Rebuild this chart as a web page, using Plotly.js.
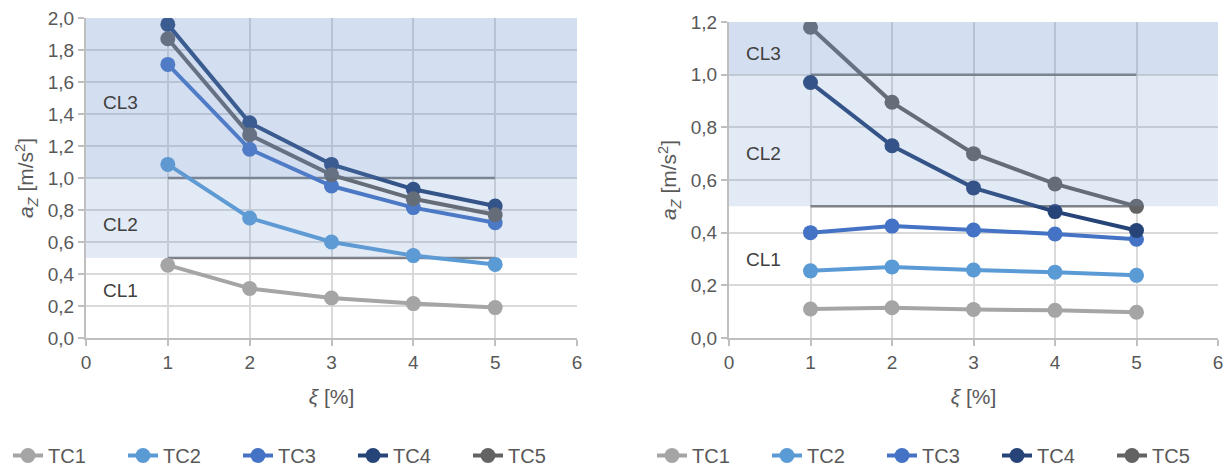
<!DOCTYPE html>
<html>
<head>
<meta charset="utf-8">
<script src="https://cdn.plot.ly/plotly-3.0.1.min.js"></script>
<style>html,body{margin:0;padding:0;background:#fff;}#chart{width:1227px;height:469px;}</style>
</head>
<body>
<div id="chart"></div>
<script>
// ---- data ----
const xi = [1, 2, 3, 4, 5];
const seriesNames = ["TC1", "TC2", "TC3", "TC4", "TC5"];
const seriesColors = ["#A5A5A5", "#5B9BD5", "#4472C4", "#264478", "#636363"];

// left chart
const leftTC1 = [0.455, 0.31, 0.25, 0.215, 0.19];
const leftTC2 = [1.085, 0.75, 0.60, 0.515, 0.46];
const leftTC3 = [1.71, 1.18, 0.95, 0.815, 0.72];
const leftTC4 = [1.96, 1.345, 1.085, 0.93, 0.825];
const leftTC5 = [1.87, 1.27, 1.02, 0.87, 0.77];

// right chart
const rightTC1 = [0.11, 0.115, 0.108, 0.105, 0.098];
const rightTC2 = [0.255, 0.27, 0.258, 0.25, 0.238];
const rightTC3 = [0.40, 0.425, 0.41, 0.395, 0.375];
const rightTC4 = [0.97, 0.73, 0.57, 0.48, 0.408];
const rightTC5 = [1.18, 0.895, 0.70, 0.585, 0.50];

// comfort level limits
const limitCL2 = 0.5;
const limitCL3 = 1.0;
const leftYMax = 2.0;
const rightYMax = 1.2;
const clLabels = ["CL1", "CL2", "CL3"];
const leftLabelY = [0.30, 0.71, 1.47];
const rightLabelY = [0.30, 0.70, 1.08];

const leftData = [leftTC1, leftTC2, leftTC3, leftTC4, leftTC5];
const rightData = [rightTC1, rightTC2, rightTC3, rightTC4, rightTC5];

const traces = [];
leftData.forEach((ys, i) => traces.push({
  x: xi, y: ys, type: "scatter", mode: "lines+markers", name: seriesNames[i],
  line: {color: seriesColors[i], width: 4}, marker: {color: seriesColors[i], size: 15},
  xaxis: "x", yaxis: "y", legend: "legend"
}));
rightData.forEach((ys, i) => traces.push({
  x: xi, y: ys, type: "scatter", mode: "lines+markers", name: seriesNames[i],
  line: {color: seriesColors[i], width: 4}, marker: {color: seriesColors[i], size: 15},
  xaxis: "x2", yaxis: "y2", legend: "legend2"
}));

const W = 1227, H = 469;
const fam = "Liberation Sans, Arial, sans-serif";
const tickFont = {family: fam, size: 19, color: "#595959"};
const titleFont = {family: fam, size: 21, color: "#595959"};

function xAxis(l, r, anchor) {
  return {
    domain: [l / W, r / W], range: [0, 6], dtick: 1, tick0: 0, anchor: anchor,
    showgrid: true, gridcolor: "#d9d9d9", gridwidth: 2,
    showline: true, linecolor: "#bfbfbf", linewidth: 2,
    ticks: "outside", ticklen: 6, tickcolor: "#bfbfbf", tickwidth: 2,
    zeroline: false, tickfont: tickFont, fixedrange: true, automargin: false,
    title: {text: "<i>ξ</i> [%]", font: titleFont, standoff: 18}
  };
}
function yAxis(t, b, max, anchor) {
  return {
    domain: [1 - b / H, 1 - t / H], range: [0, max], dtick: 0.2, tick0: 0, anchor: anchor,
    tickformat: ".1f",
    showgrid: true, gridcolor: "#d9d9d9", gridwidth: 2,
    showline: true, linecolor: "#bfbfbf", linewidth: 2,
    ticks: "outside", ticklen: 6, tickcolor: "#bfbfbf", tickwidth: 2,
    zeroline: false, tickfont: tickFont, fixedrange: true, automargin: false,
    title: {text: "<i>a</i><sub><i>Z</i></sub> [m/s<sup>2</sup>]", font: titleFont, standoff: 8}
  };
}

const shapes = [];
const annotations = [];
function addZones(xref, yref, ymax, labelY) {
  [limitCL2, limitCL3].forEach(v => {
    if (v <= ymax) shapes.push({type: "line", xref: xref, yref: yref, x0: 1, x1: 5, y0: v, y1: v,
      line: {color: "#7f7f7f", width: 2.5}, layer: "between"});
  });
  shapes.push({type: "rect", xref: xref, yref: yref, x0: 0, x1: 6, y0: limitCL2, y1: limitCL3,
    fillcolor: "rgba(110,150,205,0.2)", line: {width: 0}, layer: "above"});
  shapes.push({type: "rect", xref: xref, yref: yref, x0: 0, x1: 6, y0: limitCL3, y1: ymax,
    fillcolor: "rgba(110,150,205,0.3)", line: {width: 0}, layer: "above"});
  clLabels.forEach((t, i) => annotations.push({
    text: t, xref: xref, yref: yref, x: 0.42, y: labelY[i], showarrow: false,
    font: {family: fam, size: 19, color: "#404040"}
  }));
}
addZones("x", "y", leftYMax, leftLabelY);
addZones("x2", "y2", rightYMax, rightLabelY);

const legendBase = {
  orientation: "h", yanchor: "bottom", y: 0, xanchor: "left",
  font: {family: fam, size: 20, color: "#595959"},
  bgcolor: "rgba(0,0,0,0)", itemclick: false, itemdoubleclick: false,
  entrywidth: 70, entrywidthmode: "pixels"
};

const layout = {
  width: W, height: H, margin: {l: 0, r: 0, t: 0, b: 0},
  paper_bgcolor: "#ffffff", plot_bgcolor: "#ffffff",
  separators: ", ",
  showlegend: true,
  xaxis: xAxis(86, 577, "y"),
  yaxis: yAxis(18, 338, leftYMax, "x"),
  xaxis2: xAxis(729, 1218, "y2"),
  yaxis2: yAxis(22, 338, rightYMax, "x2"),
  legend: Object.assign({}, legendBase, {x: 8 / W}),
  legend2: Object.assign({}, legendBase, {x: 652 / W}),
  shapes: shapes, annotations: annotations
};

Plotly.newPlot("chart", traces, layout, {displayModeBar: false, staticPlot: true}).then(gd => {
  // nudge legends down slightly (they sit near the bottom edge in the reference)
  gd.querySelectorAll("g.legend, g.legend2").forEach(g => {
    const tr = g.getAttribute("transform") || "";
    const m = tr.match(/translate\(\s*([-\d.]+)[ ,]+([-\d.]+)\s*\)/);
    if (m) g.setAttribute("transform", "translate(" + m[1] + "," + (parseFloat(m[2]) + 6) + ")");
  });
});
</script>
</body>
</html>
